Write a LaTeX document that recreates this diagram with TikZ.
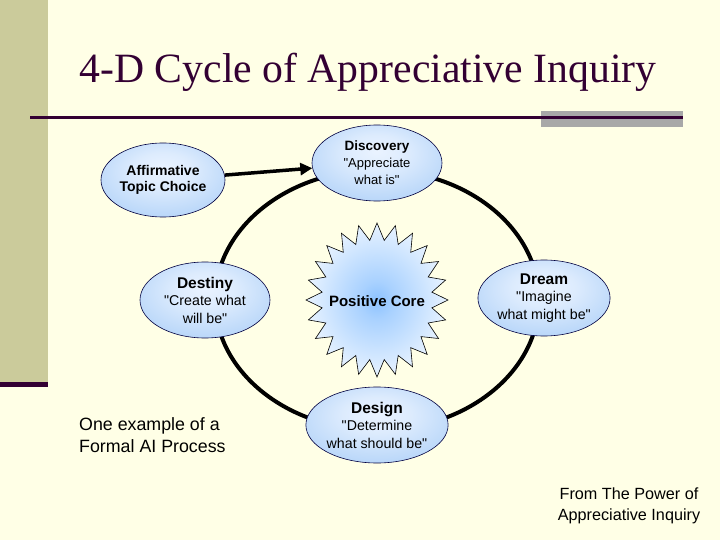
\documentclass[tikz,border=0pt]{standalone}
\usepackage{fontspec}
\setmainfont{Liberation Sans}[Ligatures=TeXOff]
\newfontfamily\titlefont{Liberation Serif}
\usetikzlibrary{shapes.geometric,arrows.meta}
\definecolor{bg}{HTML}{FFFFE6}
\definecolor{sidebar}{HTML}{CBCB9B}
\definecolor{plum}{HTML}{330033}
\definecolor{graybar}{HTML}{A8A8A8}
\definecolor{ellout}{HTML}{90BFF4}
\definecolor{ellin}{HTML}{EAF3FF}
\definecolor{starin}{HTML}{8CC2FF}
\pgfdeclareradialshading{ellshade}{\pgfpoint{0bp}{8bp}}{color(0bp)=(ellin); color(12bp)=(ellin!85!ellout); color(50bp)=(ellout); color(70bp)=(ellout)}
\pgfdeclareradialshading{starshade}{\pgfpoint{0bp}{0bp}}{color(0bp)=(starin); color(6bp)=(starin!75!white); color(32bp)=(white); color(70bp)=(white)}
\newcommand{\phttl}[1]{\textbf{\fontsize{15.5}{17.5}\selectfont #1}}
\begin{document}
\begin{tikzpicture}[x=1pt,y=-1pt,
  phase/.style={ellipse, draw=black!75!blue, line width=0.6pt, shade, shading=ellshade,
    minimum width=130pt, minimum height=76pt, inner sep=0pt, align=center,
    font=\fontsize{14.2}{17.5}\selectfont},
  cyc/.style={line width=4pt},
  conn/.style={line width=3.5pt, -{Triangle[length=12pt,width=12pt]}}
]
\useasboundingbox (0,0) rectangle (720,540);
\fill[bg] (0,0) rectangle (720,540);
\fill[sidebar] (0,0) rectangle (48,382);
\fill[plum] (0,382) rectangle (48,387);
\fill[graybar] (541,111) rectangle (683,127);
\fill[plum] (30,116) rectangle (683,119.5);
\node[font=\titlefont\fontsize{41.7}{46}\selectfont, text=plum, anchor=base, inner sep=0pt] (title) at (368,83) {4-D Cycle of Appreciative Inquiry};

\draw[cyc] (377,300) ellipse [x radius=162, y radius=130];

\path[shift={(377,300)}, draw=black, line width=0.6pt, shade, shading=starshade]
  (0:71 and 77) \foreach \i in {1,...,47}{ -- ({7.5*\i}:{71-15.6*mod(\i,2)} and {77-16.9*mod(\i,2)}) } -- cycle;
\node[font=\bfseries\fontsize{15}{17}\selectfont] (core) at (377,301) {Positive Core};

\node[phase, font=\fontsize{13}{17}\selectfont] (disc) at (377,163) {\textbf{\fontsize{13.5}{17}\selectfont Discovery}\\"Appreciate\\what is"};
\node[phase, minimum width=124pt, minimum height=74pt, font=\bfseries\fontsize{14}{16.5}\selectfont] (aff) at (163,180) {Affirmative\\Topic Choice};
\node[phase] (dest) at (205,300) {\phttl{Destiny}\\"Create what\\will be"};
\node[phase] (dream) at (544,298) {\phttl{Dream}\\"Imagine\\what might be"};
\node[phase] (design) at (377,425) {\phttl{Design}\\"Determine\\what should be"};

\draw[conn] (aff) -- (disc);

\node[anchor=west, align=left, inner sep=0pt, font=\fontsize{17.8}{22}\selectfont] (note) at (79,435) {One example of a\\Formal AI Process};
\node[align=center, inner sep=0pt, font=\fontsize{16.2}{21}\selectfont] (src) at (629,506) {From The Power of\\Appreciative Inquiry};
\end{tikzpicture}
\end{document}
